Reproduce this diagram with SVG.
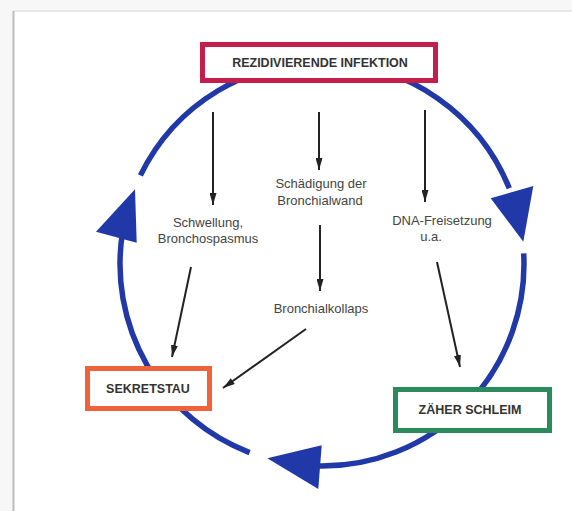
<svg xmlns="http://www.w3.org/2000/svg" width="572" height="511" viewBox="0 0 572 511">
<defs>
<style>
.ring{fill:none;stroke:#2038a8;stroke-width:5.5}
.head{fill:#2038a8}
.box{fill:#fff;stroke-width:5}
.title{font-family:"Liberation Sans",Arial,sans-serif;font-weight:bold;font-size:12.5px;fill:#333;text-anchor:middle}
.lbl{font-family:"Liberation Sans",Arial,sans-serif;font-size:13px;fill:#444;text-anchor:middle}
.arr{stroke:#222;stroke-width:2;fill:none;marker-end:url(#ah)}
</style>
<marker id="ah" markerUnits="userSpaceOnUse" markerWidth="12" markerHeight="7" refX="12" refY="3.5" orient="auto">
<path d="M0,0 L12,3.5 L0,7 z" fill="#222"/>
</marker>
</defs>
<rect width="572" height="511" fill="#f7f7f7"/>
<rect x="13" y="11" width="559" height="500" fill="#fff"/>
<line x1="13" y1="11" x2="572" y2="11" stroke="#e2e2e2" stroke-width="1.5"/>
<line x1="13.5" y1="11" x2="13.5" y2="511" stroke="#bdbdbd" stroke-width="2"/>
<g id="connectors">
<path class="ring" d="M140.4,175.4 A202,202 0 0 1 509.3,188.3"/>
<path class="ring" d="M523.7,253.4 A202,202 0 0 1 318.5,466"/>
<path class="ring" d="M249.6,452.6 A202,202 0 0 1 122.5,232.4"/>
<polygon class="head" points="490.7,198.3 533.3,186 523.3,241.7"/>
<polygon class="head" points="96,231.7 135,189.3 136.7,242.7"/>
<polygon class="head" points="267.3,458.3 321.7,445.3 318.3,489"/>
<line class="arr" x1="213" y1="112" x2="213" y2="205"/>
<line class="arr" x1="319" y1="112" x2="319" y2="170"/>
<line class="arr" x1="425" y1="110" x2="425" y2="202"/>
<line class="arr" x1="320" y1="225" x2="320" y2="291"/>
<line class="arr" x1="191" y1="267" x2="172" y2="357"/>
<line class="arr" x1="306" y1="329" x2="223" y2="388"/>
<line class="arr" x1="437" y1="262" x2="460" y2="367"/>
</g>
<g id="infektion">
<rect class="box" x="202.5" y="44.5" width="233" height="36" stroke="#c41e4a"/>
<text class="title" x="320" y="67">REZIDIVIERENDE INFEKTION</text>
</g>
<g id="sekretstau">
<rect class="box" x="87.5" y="368.5" width="122" height="40" stroke="#f0623a"/>
<text class="title" x="148" y="393">SEKRETSTAU</text>
</g>
<g id="schleim">
<rect class="box" x="395.5" y="389.5" width="154" height="41" stroke="#2a8a5c"/>
<text class="title" x="470" y="414">ZÄHER SCHLEIM</text>
</g>
<g id="schwellung">
<text class="lbl" x="208" y="227">Schwellung,</text>
<text class="lbl" x="208" y="243">Bronchospasmus</text>
</g>
<g id="schaedigung">
<text class="lbl" x="321" y="188">Schädigung der</text>
<text class="lbl" x="320" y="205">Bronchialwand</text>
</g>
<g id="dna">
<text class="lbl" x="442" y="225">DNA-Freisetzung</text>
<text class="lbl" x="431" y="241">u.a.</text>
</g>
<g id="kollaps">
<text class="lbl" x="321" y="313">Bronchialkollaps</text>
</g>
</svg>
